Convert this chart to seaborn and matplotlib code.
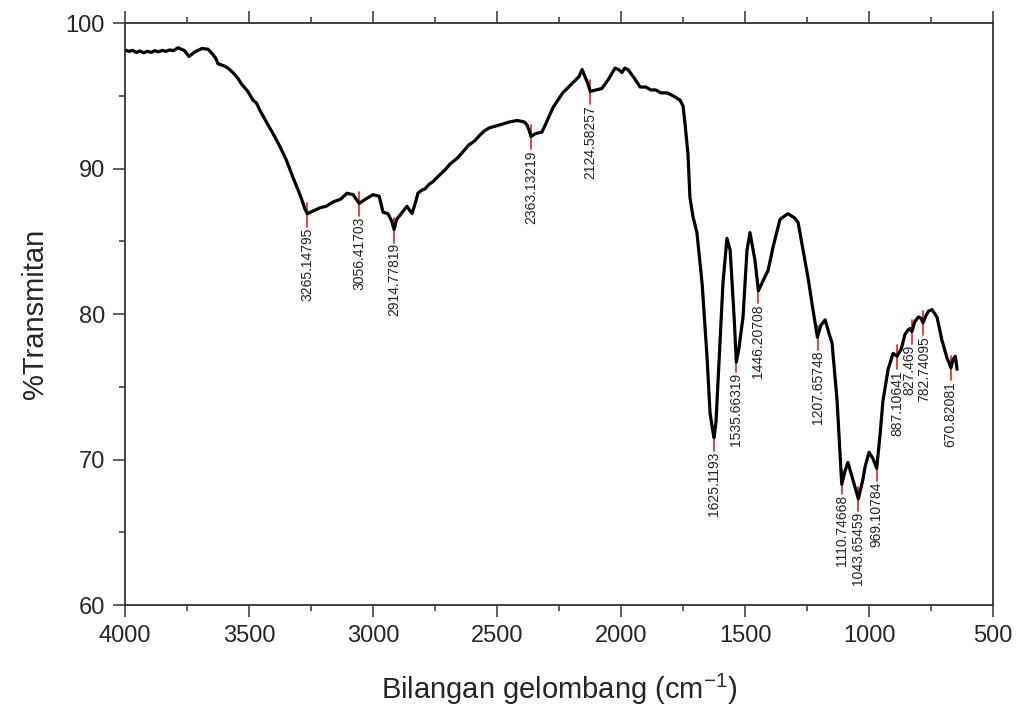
import numpy as np
import pandas as pd
import matplotlib
matplotlib.use("Agg")
import matplotlib.pyplot as plt
import seaborn as sns
from matplotlib.ticker import MultipleLocator

# FTIR spectrum
wavenumber = [4000, 3985, 3970, 3955, 3940, 3925, 3910, 3895, 3880, 3865,
              3850, 3835, 3820, 3805, 3786, 3760, 3742, 3720, 3690, 3665,
              3649, 3635, 3625, 3600, 3585, 3565, 3545, 3530, 3505, 3484,
              3470, 3456, 3420, 3400, 3375, 3350, 3323, 3290, 3274, 3265,
              3240, 3214, 3190, 3161, 3130, 3105, 3080, 3056, 3030, 3000,
              2975, 2960, 2940, 2925, 2915, 2905, 2891, 2863, 2843, 2830,
              2819, 2805, 2790, 2775, 2758, 2735, 2710, 2690, 2661, 2640,
              2615, 2590, 2569, 2550, 2530, 2488, 2450, 2419, 2390, 2379,
              2370, 2363, 2345, 2319, 2300, 2274, 2235, 2194, 2170, 2157,
              2145, 2135, 2124, 2100, 2077, 2052, 2024, 2010, 1996, 1985,
              1972, 1950, 1923, 1900, 1880, 1860, 1840, 1815, 1790, 1762,
              1750, 1742, 1730, 1722, 1710, 1694, 1673, 1653, 1641, 1632,
              1625, 1617, 1609, 1589, 1573, 1560, 1544, 1535, 1525, 1508,
              1492, 1480, 1460, 1446, 1427, 1407, 1387, 1359, 1327, 1300,
              1286, 1266, 1246, 1226, 1208, 1195, 1177, 1160, 1149, 1129,
              1110, 1097, 1085, 1065, 1043, 1025, 1016, 1000, 985, 969,
              955, 944, 923, 903, 887, 870, 855, 843, 835, 827,
              815, 800, 790, 782, 770, 760, 746, 726, 706, 686,
              676, 670, 660, 652, 645]
transmitan = [98.15, 98.05, 98.12, 97.98, 98.08, 97.95, 98.06, 97.98, 98.1, 98.02,
              98.12, 98.05, 98.15, 98.1, 98.3, 98.1, 97.7, 98.0, 98.25, 98.2,
              97.9, 97.6, 97.2, 97.05, 96.9, 96.6, 96.2, 95.8, 95.3, 94.7,
              94.5, 94.0, 92.9, 92.3, 91.5, 90.6, 89.4, 88.0, 87.2, 86.9,
              87.1, 87.3, 87.4, 87.7, 87.9, 88.3, 88.2, 87.6, 87.9, 88.2,
              88.1, 87.0, 86.9, 86.4, 85.8, 86.5, 86.8, 87.4, 86.9, 87.6,
              88.3, 88.5, 88.6, 88.9, 89.1, 89.5, 89.9, 90.3, 90.7, 91.1,
              91.6, 91.9, 92.3, 92.6, 92.8, 93.0, 93.2, 93.3, 93.2, 93.0,
              92.6, 92.2, 92.4, 92.5, 93.2, 94.2, 95.2, 95.9, 96.3, 96.8,
              96.3, 95.9, 95.3, 95.4, 95.5, 96.1, 96.9, 96.8, 96.6, 96.9,
              96.8, 96.3, 95.6, 95.6, 95.4, 95.4, 95.2, 95.2, 95.0, 94.7,
              94.3, 93.1, 91.0, 88.0, 86.7, 85.6, 82.1, 77.0, 73.2, 72.2,
              71.5, 72.6, 75.3, 82.1, 85.2, 84.4, 79.8, 76.7, 77.6, 79.8,
              84.4, 85.6, 83.7, 81.6, 82.3, 83.0, 84.6, 86.5, 86.9, 86.6,
              86.3, 84.4, 82.5, 80.3, 78.4, 79.2, 79.6, 78.6, 78.0, 74.1,
              68.3, 69.2, 69.8, 68.6, 67.3, 68.6, 69.5, 70.5, 70.1, 69.4,
              71.8, 74.0, 76.2, 77.3, 77.1, 77.6, 78.6, 78.9, 79.0, 78.8,
              79.5, 79.8, 79.7, 79.4, 79.9, 80.2, 80.3, 79.8, 78.2, 77.0,
              76.6, 76.3, 76.9, 77.1, 76.2]

peak_pos = [3265.14795, 3056.41703, 2914.77819, 2363.13219, 2124.58257,
            1625.1193, 1535.66319, 1446.20708, 1207.65748, 1110.74668,
            1043.65459, 969.10784, 887.10641, 827.469, 782.74095, 670.82081]
peak_labels = ["3265.14795", "3056.41703", "2914.77819", "2363.13219",
               "2124.58257", "1625.1193", "1535.66319", "1446.20708",
               "1207.65748", "1110.74668", "1043.65459", "969.10784",
               "887.10641", "827.469", "782.74095", "670.82081"]

df = pd.DataFrame({"wn": wavenumber, "T": transmitan})

sns.set_style("ticks")
plt.rcParams["font.family"] = ["Liberation Sans", "DejaVu Sans"]
plt.rcParams["mathtext.fontset"] = "custom"
plt.rcParams["mathtext.rm"] = "Liberation Sans"
plt.rcParams["mathtext.it"] = "Liberation Sans:italic"

fig = plt.figure(figsize=(10.19, 7.06), dpi=100)
ax = fig.add_axes([0.1227, 0.143, 0.8518, 0.8244])

sns.lineplot(data=df, x="wn", y="T", ax=ax, color="black", linewidth=2.3,
             estimator=None, sort=True)

# peak markers and labels
for pos, lab in zip(peak_pos, peak_labels):
    tval = np.interp(pos, df["wn"][::-1], df["T"][::-1])
    ax.plot([pos, pos], [tval + 0.75, tval - 0.9], color="#e8362b",
            linewidth=1.3, zorder=1)
    dx = {"827.469": 8, "782.74095": -6}.get(lab, 0)
    ax.text(pos + dx, tval - 0.95, lab, rotation=90, ha="center", va="top",
            fontsize=10, color="#222222")

ax.set_xlim(4000, 500)
ax.set_ylim(60, 100)
ax.xaxis.set_major_locator(MultipleLocator(500))
ax.xaxis.set_minor_locator(MultipleLocator(250))
ax.yaxis.set_major_locator(MultipleLocator(10))
ax.yaxis.set_minor_locator(MultipleLocator(5))

for side in ["left", "right", "top", "bottom"]:
    ax.spines[side].set_visible(True)
    ax.spines[side].set_color("#333333")
    ax.spines[side].set_linewidth(1.3)

ax.tick_params(axis="both", which="major", direction="out", length=8.5,
               width=1.1, color="#333333", labelsize=17, pad=6)
ax.tick_params(axis="both", which="minor", direction="out", length=4.5,
               width=1.1, color="#333333")
ax.tick_params(axis="x", which="both", top=True)
ax.tick_params(axis="y", which="both", right=False)

ax.set_xlabel("Bilangan gelombang (cm$^{\\mathrm{-1}}$)", fontsize=21, labelpad=18)
ax.set_ylabel("%Transmitan", fontsize=21, labelpad=12)

fig.savefig("out.png", dpi=100)
